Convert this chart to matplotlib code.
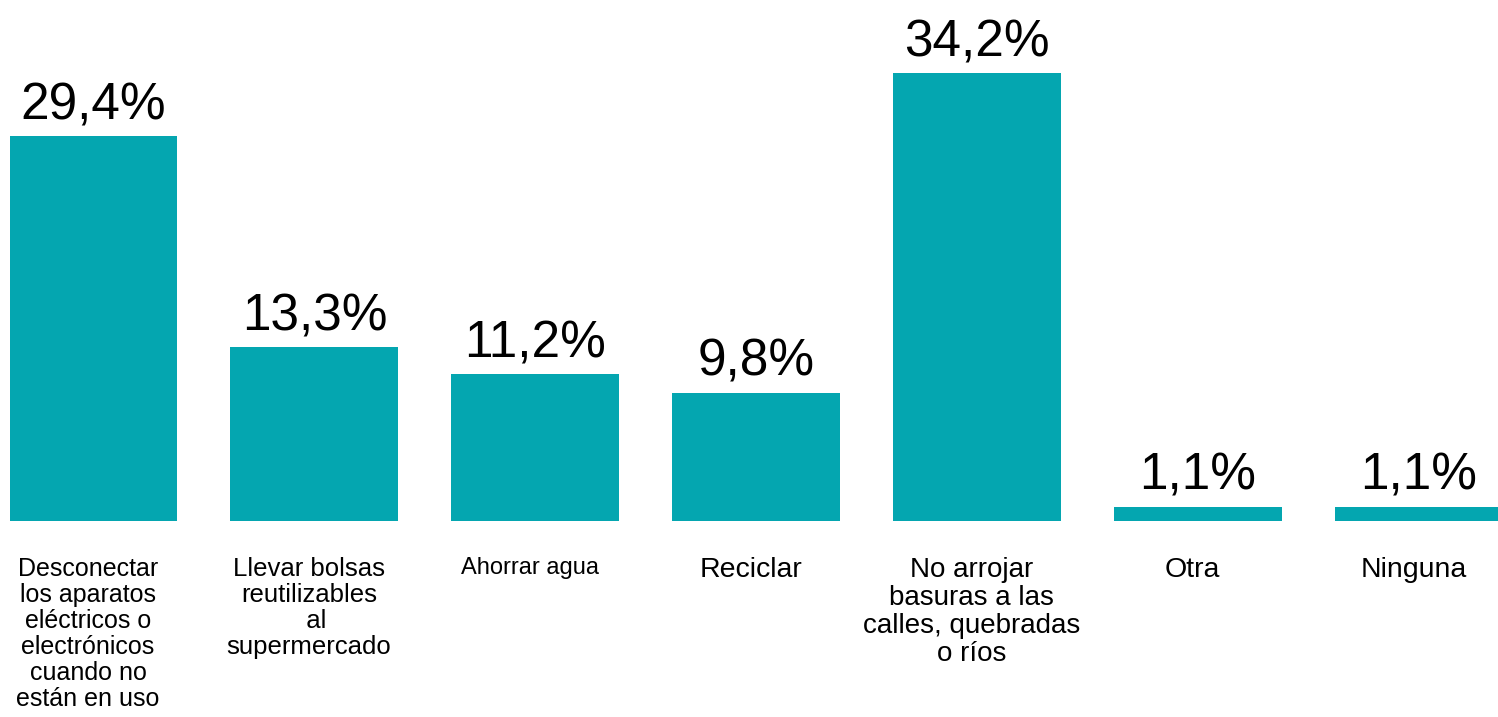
import matplotlib.pyplot as plt
import numpy as np

plt.rcParams['font.family'] = ['Liberation Sans', 'DejaVu Sans']

# datos
categorias = [
    'Desconectar\nlos aparatos\neléctricos o\nelectrónicos\ncuando no\nestán en uso',
    'Llevar bolsas\nreutilizables\n  al\nsupermercado',
    'Ahorrar agua',
    'Reciclar',
    'No arrojar\nbasuras a las\ncalles, quebradas\no ríos',
    'Otra',
    'Ninguna',
]
valores = [29.4, 13.3, 11.2, 9.8, 34.2, 1.1, 1.1]
etiquetas = ['29,4%', '13,3%', '11,2%', '9,8%', '34,2%', '1,1%', '1,1%']

# estilo de las etiquetas de categoría
tam_cat = [18, 18.5, 17, 20.5, 20, 20.5, 20.5]

color = '#04a6b0'

fig = plt.figure(figsize=(14.98, 7.17), dpi=100)
ax = fig.add_axes([0, 1 - 521 / 717, 1, (521 - 73) / 717])

x = np.arange(len(valores))
ax.bar(x, valores, width=0.76, color=color)

for xi, v, txt in zip(x, valores, etiquetas):
    ax.annotate(txt, (xi, v), xytext=(0, 12), textcoords='offset points',
                ha='center', va='baseline', fontsize=37, color='black')

# etiquetas de categoría debajo de las barras
for xi, cat, fs in zip(x, categorias, tam_cat):
    ax.annotate(cat, (xi, 0), xytext=(-4, -26), textcoords='offset points',
                ha='center', va='top', fontsize=fs, linespacing=1.1,
                multialignment='center', color='black')

ax.set_xlim(-93.5 / 220.9, 6 + 79 / 220.9)
ax.set_ylim(0, 34.2)
ax.axis('off')

fig.savefig('out.png', dpi=100)
